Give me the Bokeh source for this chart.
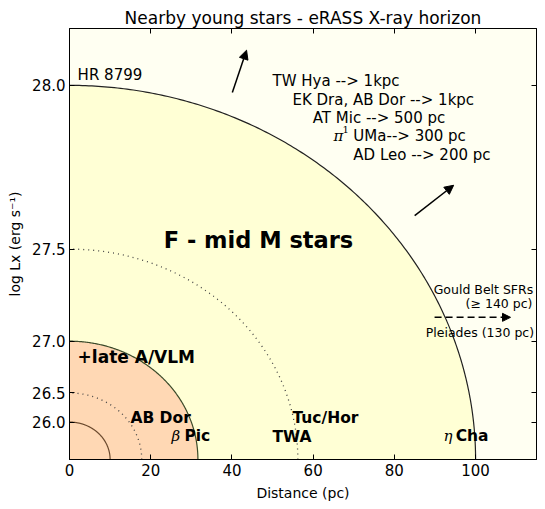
import numpy as np
from bokeh.plotting import figure
from bokeh.models import (Range1d, FixedTicker, LinearAxis, Arrow, NormalHead,
                          Label)
from bokeh.embed import file_html
from bokeh.resources import INLINE

# ---- data ----
loglx_levels = [26.0, 26.5, 27.0, 27.5, 28.0]
loglx_labels = ["26.0", "26.5", "27.0", "27.5", "28.0"]
horizon_pc = 100.0            # distance reached at log Lx = 28.0
ref_loglx = 28.0
x_ticks = [0, 20, 40, 60, 80, 100]

def horizon(l):
    return horizon_pc * 10 ** ((l - ref_loglx) / 2.0)

FONT = "DejaVu Sans"

p = figure(width=540, height=505, output_backend="svg", toolbar_location=None,
           x_range=Range1d(0, 115), y_range=Range1d(0, 115.2),
           min_border_left=69, min_border_right=4, min_border_top=28,
           min_border_bottom=46,
           title="Nearby young stars - eRASS X-ray horizon")
p.title.text_font = FONT
p.title.text_font_size = "17px"
p.title.text_font_style = "normal"
p.title.text_color = "black"
p.title.align = "center"
p.title.standoff = 2
p.grid.visible = False
p.background_fill_color = "#fffff2"
p.border_fill_color = "white"
p.outline_line_color = "black"
p.outline_line_width = 1

theta = np.linspace(0, np.pi / 2, 200)

def quarter(l):
    r = horizon(l)
    xs = np.concatenate([[0], r * np.cos(theta), [0]])
    ys = np.concatenate([[0], r * np.sin(theta), [0]])
    return xs, ys, r * np.cos(theta), r * np.sin(theta)

# big yellow region
xs, ys, ax, ay = quarter(28.0)
p.patch(xs, ys, fill_color="#ffffd5", line_color=None)
p.line(ax, ay, line_color="#222222", line_width=1.2)
# dotted 27.5
_, _, ax, ay = quarter(27.5)
p.line(ax, ay, line_color="#444444", line_width=1.3, line_dash="1 4")
# orange region 27.0
xs, ys, ax, ay = quarter(27.0)
p.patch(xs, ys, fill_color="#ffd8b4", line_color=None)
p.line(ax, ay, line_color="#3b4a2a", line_width=1.2)
# dotted 26.5
_, _, ax, ay = quarter(26.5)
p.line(ax, ay, line_color="#444444", line_width=1.3, line_dash="1 4")
# solid 26.0
_, _, ax, ay = quarter(26.0)
p.line(ax, ay, line_color="#6b4a2e", line_width=1.2)

# axes
ytick_pos = [horizon(l) for l in loglx_levels]
overrides = {t: lab for t, lab in zip(ytick_pos, loglx_labels)}

bottom = p.xaxis[0]
left = p.yaxis[0]
bottom.ticker = FixedTicker(ticks=x_ticks)
bottom.axis_label = "Distance (pc)"
left.ticker = FixedTicker(ticks=ytick_pos)
left.major_label_overrides = overrides
left.axis_label = "log Lx (erg s\u207b\u00b9)"

top = LinearAxis(ticker=FixedTicker(ticks=x_ticks[1:]),
                 major_label_overrides={t: "" for t in x_ticks})
right = LinearAxis(ticker=FixedTicker(ticks=ytick_pos),
                   major_label_overrides={t: "" for t in ytick_pos})
p.add_layout(top, "above")
p.add_layout(right, "right")

for a in [bottom, left, top, right]:
    a.major_tick_in = 5
    a.major_tick_out = 0
    a.minor_tick_in = 0
    a.minor_tick_out = 0
    a.axis_line_color = "black"
    a.major_tick_line_color = "black"
    a.major_label_text_font = FONT
    a.major_label_text_font_size = "15px"
    a.major_label_text_color = "black"
    a.axis_label_text_font = FONT
    a.axis_label_text_font_size = "14px"
    a.axis_label_text_font_style = "normal"
    a.axis_label_text_color = "black"
    a.major_label_standoff = 4
    a.axis_label_standoff = 6
for a in [top, right]:
    a.major_label_text_font_size = "0px"
    a.major_label_standoff = 0
    a.axis_label_standoff = 0

# texts
def txt(x, y, s, size="13px", style="normal", font=FONT, align="left",
        baseline="middle"):
    p.add_layout(Label(x=x, y=y, text=s, text_font=font, text_font_size=size,
                       text_font_style=style, text_align=align,
                       text_baseline=baseline, text_color="black"))

txt(2.0, 100.4, "HR 8799", size="15px", baseline="bottom")
txt(50.0, 101.3, "TW Hya --> 1kpc", size="15px")
txt(54.9, 96.0, "EK Dra, AB Dor --> 1kpc", size="15px")
txt(59.9, 91.2, "AT Mic --> 500 pc", size="15px")
txt(65.0, 86.4, "\u03c0", size="15px", style="italic", font="DejaVu Serif")
txt(67.2, 88.2, "1", size="10px", font="DejaVu Serif")
txt(69.9, 86.4, "UMa--> 300 pc", size="15px")
txt(69.9, 81.3, "AD Leo --> 200 pc", size="15px")

txt(23.2, 58.8, "F - mid M stars", size="22.5px", style="bold")
txt(2.0, 27.5, "+late A/VLM", size="17px", style="bold")
txt(15.0, 11.2, "AB Dor", size="15.5px", style="bold")
txt(25.1, 6.4, "\u03b2", size="15px", style="italic", font="DejaVu Serif")
txt(28.3, 6.4, "Pic", size="15.5px", style="bold")
txt(54.9, 11.2, "Tuc/Hor", size="15.5px", style="bold")
txt(50.0, 6.1, "TWA", size="15.5px", style="bold")
txt(92.1, 6.4, "\u03b7", size="15px", style="italic", font="DejaVu Serif")
txt(95.1, 6.4, "Cha", size="15.5px", style="bold")

txt(114.2, 45.5, "Gould Belt SFRs", size="12.5px", align="right")
txt(114.0, 41.7, "(\u2265 140 pc)", size="12.5px", align="right")
txt(114.4, 34.0, "Pleiades (130 pc)", size="12.5px", align="right")

# arrows
p.add_layout(Arrow(x_start=40.1, y_start=98.1, x_end=43.6, y_end=109.4,
                   line_width=1.5, line_color="black",
                   end=NormalHead(size=9, fill_color="black", line_color="black")))
p.add_layout(Arrow(x_start=85.0, y_start=65.2, x_end=94.6, y_end=73.3,
                   line_width=1.5, line_color="black",
                   end=NormalHead(size=9, fill_color="black", line_color="black")))
p.add_layout(Arrow(x_start=89.9, y_start=38.0, x_end=108.6, y_end=38.0,
                   line_width=1.5, line_color="black", line_dash="7 4",
                   end=NormalHead(size=8, fill_color="black", line_color="black")))

open("out.html", "w").write(file_html(p, INLINE))
